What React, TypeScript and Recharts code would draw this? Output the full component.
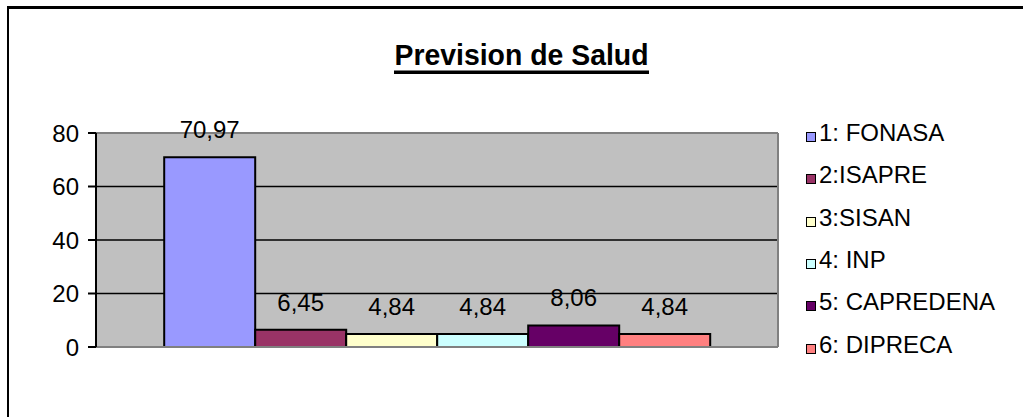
import React from 'react';
import {
  BarChart,
  Bar,
  XAxis,
  YAxis,
  CartesianGrid,
  LabelList,
  ReferenceLine,
} from 'recharts';

const title = 'Prevision de Salud';
const categories = [''];
const seriesNames = ['1: FONASA', '2:ISAPRE', '3:SISAN', '4: INP', '5: CAPREDENA', '6: DIPRECA'];
const seriesValues = [70.97, 6.45, 4.84, 4.84, 8.06, 4.84];
const seriesColors = ['#9999FF', '#993366', '#FFFFCC', '#CCFFFF', '#660066', '#FF8080'];
const yTicks = [0, 20, 40, 60, 80];

const seriesKeys = seriesNames.map((_, i) => `s${i}`);
const data = categories.map((c) => {
  const row: Record<string, string | number> = { name: c };
  seriesKeys.forEach((k, i) => {
    row[k] = seriesValues[i];
  });
  return row;
});

const FONT = '"Liberation Sans", Arial, Helvetica, sans-serif';
const fmt = (v: any) => Number(v).toFixed(2).replace('.', ',');

export default function App() {
  return (
    <div
      style={{
        position: 'absolute',
        left: 0,
        top: 0,
        width: 1023,
        height: 417,
        background: '#fff',
        overflow: 'hidden',
        fontFamily: FONT,
      }}
    >
      {/* outer chart border */}
      <div
        style={{
          position: 'absolute',
          left: 7,
          top: 6,
          width: 1100,
          height: 500,
          borderLeft: '2px solid #000',
          borderTop: '3px solid #000',
        }}
      />
      {/* title */}
      <svg
        width={1023}
        height={100}
        style={{ position: 'absolute', left: 0, top: 0 }}
      >
        <text
          x={521.5}
          y={65}
          textAnchor="middle"
          fontFamily={FONT}
          fontWeight="bold"
          fontSize={30}
          textLength={254}
          lengthAdjust="spacingAndGlyphs"
          fill="#000"
        >
          {title}
        </text>
        <rect x={394} y={70.5} width={255} height={3.5} fill="#000" />
      </svg>
      <div style={{ position: 'absolute', left: 0, top: 0 }}>
        <BarChart
          width={1023}
          height={417}
          data={data}
          margin={{ top: 133, right: 244, bottom: 70, left: 0 }}
          barCategoryGap="10%"
          barGap={0}
        >
          <CartesianGrid
            vertical={false}
            horizontal={true}
            stroke="#000"
            strokeWidth={1.5}
            fill="#C0C0C0"
            fillOpacity={1}
          />
          <XAxis dataKey="name" hide />
          <YAxis
            domain={[0, 80]}
            ticks={yTicks}
            width={96}
            interval={0}
            axisLine={{ stroke: '#000', strokeWidth: 2 }}
            tickLine={{ stroke: '#000', strokeWidth: 2 }}
            tickSize={8}
            tickMargin={9}
            tick={{ fill: '#000', fontSize: 24, fontFamily: FONT }}
          />
          <YAxis
            yAxisId="r"
            orientation="right"
            domain={[0, 80]}
            width={1}
            tick={false}
            tickLine={false}
            axisLine={{ stroke: '#808080', strokeWidth: 2 }}
          />
          <ReferenceLine y={80} stroke="#808080" strokeWidth={2} />
          <ReferenceLine y={0} stroke="#808080" strokeWidth={2} />
          {seriesKeys.map((k, i) => (
            <Bar
              key={k}
              dataKey={k}
              name={seriesNames[i]}
              fill={seriesColors[i]}
              stroke="#000"
              strokeWidth={2}
              isAnimationActive={false}
            >
              <LabelList
                dataKey={k}
                position="top"
                offset={19}
                formatter={fmt}
                style={{ fill: '#000', fontSize: 24, fontFamily: FONT }}
              />
            </Bar>
          ))}
        </BarChart>
      </div>
      {/* legend */}
      <div style={{ position: 'absolute', left: 806, top: 112 }}>
        {seriesNames.map((n, i) => (
          <div
            key={n}
            style={{ display: 'flex', alignItems: 'center', height: 42.3 }}
          >
            <span
              style={{
                display: 'inline-block',
                boxSizing: 'border-box',
                width: 10,
                height: 10,
                background: seriesColors[i],
                border: '1px solid #000',
                marginRight: 3,
                transform: 'translateY(4px)',
              }}
            />
            <span style={{ fontSize: 24, color: '#000', lineHeight: '28px' }}>{n}</span>
          </div>
        ))}
      </div>
    </div>
  );
}
